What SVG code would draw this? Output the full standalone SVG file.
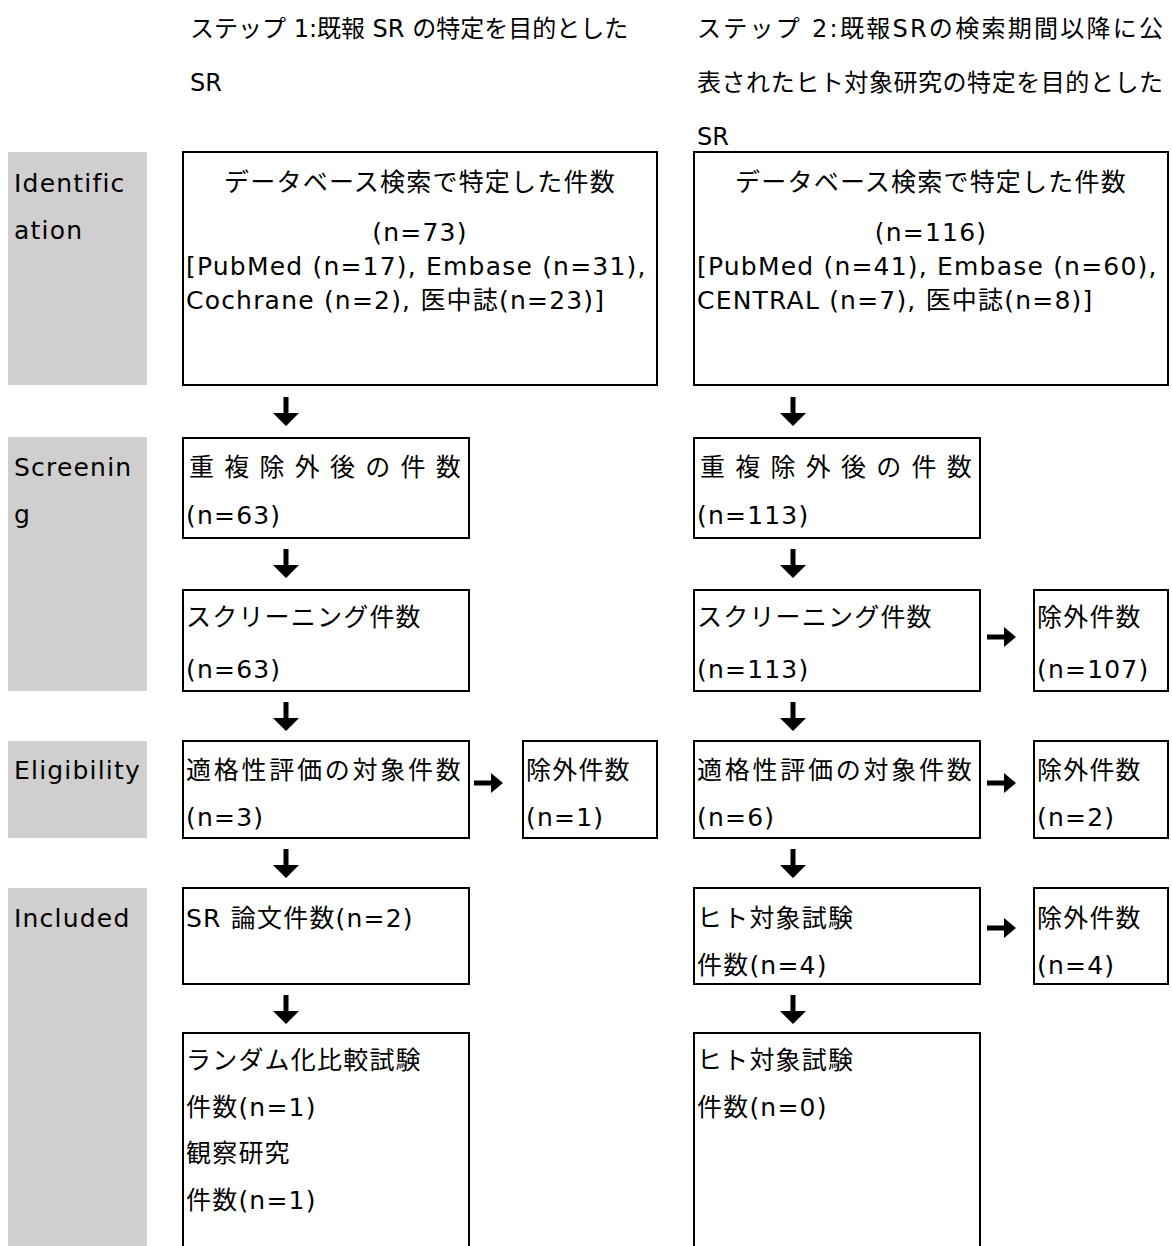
<svg xmlns="http://www.w3.org/2000/svg" width="1172" height="1246" viewBox="0 0 1172 1246">
<defs>
<style>
text{font-family:"DejaVu Sans","Noto Sans CJK JP",sans-serif;font-size:25px;fill:#000;letter-spacing:1.2px}
.h{letter-spacing:0;font-size:24px}
.c{text-anchor:middle}
.box{fill:#fff;stroke:#000;stroke-width:2}
.band{fill:#d0cece}
.arr{fill:#000}
</style>
<path id="down" class="arr" d="M-2.5,0 H2.5 V16 H13 L0,29 L-13,16 H-2.5 Z"/>
<path id="right" class="arr" d="M0,-2.5 H17 V-10 L29,0 L17,10 V2.5 H0 Z"/>
</defs>
<rect width="1172" height="1246" fill="#fff"/>

<g id="headers">
<text class="h" x="190" y="37">ステップ 1:既報 SR の特定を目的とした</text>
<text class="h" x="190" y="91">SR</text>
<text class="h" x="697" y="37" textLength="466" lengthAdjust="spacing">ステップ 2:既報SRの検索期間以降に公</text>
<text class="h" x="697" y="91" textLength="466" lengthAdjust="spacing">表されたヒト対象研究の特定を目的とした</text>
<text class="h" x="697" y="145">SR</text>
</g>

<g id="stage-identification">
<rect class="band" x="8" y="152" width="139" height="233"/>
<text x="14" y="192">Identific</text>
<text x="14" y="239">ation</text>
</g>
<g id="stage-screening">
<rect class="band" x="8" y="437" width="139" height="254"/>
<text x="14" y="476">Screenin</text>
<text x="14" y="523">g</text>
</g>
<g id="stage-eligibility">
<rect class="band" x="8" y="741" width="139" height="97"/>
<text x="14" y="779">Eligibility</text>
</g>
<g id="stage-included">
<rect class="band" x="8" y="888" width="139" height="358"/>
<text x="14" y="927">Included</text>
</g>

<g id="s1-identified">
<rect class="box" x="183" y="152" width="474" height="233"/>
<text class="c" x="420" y="191">データベース検索で特定した件数</text>
<text class="c" x="420" y="241">(n=73)</text>
<text x="186" y="275">[PubMed (n=17), Embase (n=31),</text>
<text x="186" y="309">Cochrane (n=2), 医中誌(n=23)]</text>
</g>
<g id="s2-identified">
<rect class="box" x="694" y="152" width="474" height="233"/>
<text class="c" x="931" y="191">データベース検索で特定した件数</text>
<text class="c" x="931" y="241">(n=116)</text>
<text x="697" y="275">[PubMed (n=41), Embase (n=60),</text>
<text x="697" y="309">CENTRAL (n=7), 医中誌(n=8)]</text>
</g>

<g id="s1-dedup">
<rect class="box" x="183" y="438" width="286" height="100"/>
<text x="189" y="476" textLength="273" lengthAdjust="spacing">重 複 除 外 後 の 件 数</text>
<text x="186" y="524">(n=63)</text>
</g>
<g id="s2-dedup">
<rect class="box" x="694" y="438" width="286" height="100"/>
<text x="700" y="476" textLength="273" lengthAdjust="spacing">重 複 除 外 後 の 件 数</text>
<text x="697" y="524">(n=113)</text>
</g>

<g id="s1-screened">
<rect class="box" x="183" y="590" width="286" height="101"/>
<text x="186" y="626">スクリーニング件数</text>
<text x="186" y="678">(n=63)</text>
</g>
<g id="s2-screened">
<rect class="box" x="694" y="590" width="286" height="101"/>
<text x="697" y="626">スクリーニング件数</text>
<text x="697" y="678">(n=113)</text>
</g>
<g id="s2-screen-excluded">
<rect class="box" x="1034" y="590" width="134" height="101"/>
<text x="1037" y="626">除外件数</text>
<text x="1037" y="678">(n=107)</text>
</g>

<g id="s1-eligibility">
<rect class="box" x="183" y="741" width="286" height="97"/>
<text x="186" y="779" textLength="276" lengthAdjust="spacing">適格性評価の対象件数</text>
<text x="186" y="826">(n=3)</text>
</g>
<g id="s1-elig-excluded">
<rect class="box" x="523" y="741" width="134" height="97"/>
<text x="526" y="779">除外件数</text>
<text x="526" y="826">(n=1)</text>
</g>
<g id="s2-eligibility">
<rect class="box" x="694" y="741" width="286" height="97"/>
<text x="697" y="779" textLength="276" lengthAdjust="spacing">適格性評価の対象件数</text>
<text x="697" y="826">(n=6)</text>
</g>
<g id="s2-elig-excluded">
<rect class="box" x="1034" y="741" width="134" height="97"/>
<text x="1037" y="779">除外件数</text>
<text x="1037" y="826">(n=2)</text>
</g>

<g id="s1-sr">
<rect class="box" x="183" y="888" width="286" height="96"/>
<text x="186" y="927">SR 論文件数(n=2)</text>
</g>
<g id="s2-human">
<rect class="box" x="694" y="888" width="286" height="96"/>
<text x="697" y="927">ヒト対象試験</text>
<text x="697" y="974">件数(n=4)</text>
</g>
<g id="s2-human-excluded">
<rect class="box" x="1034" y="888" width="134" height="96"/>
<text x="1037" y="927">除外件数</text>
<text x="1037" y="974">(n=4)</text>
</g>

<g id="s1-final">
<rect class="box" x="183" y="1033" width="286" height="230"/>
<text x="186" y="1069">ランダム化比較試験</text>
<text x="186" y="1116">件数(n=1)</text>
<text x="186" y="1162">観察研究</text>
<text x="186" y="1209">件数(n=1)</text>
</g>
<g id="s2-final">
<rect class="box" x="694" y="1033" width="286" height="230"/>
<text x="697" y="1069">ヒト対象試験</text>
<text x="697" y="1116">件数(n=0)</text>
</g>

<g id="connectors">
<use href="#down" x="286" y="397"/>
<use href="#down" x="793" y="397"/>
<use href="#down" x="286" y="549"/>
<use href="#down" x="793" y="549"/>
<use href="#down" x="286" y="702"/>
<use href="#down" x="793" y="702"/>
<use href="#down" x="286" y="849"/>
<use href="#down" x="793" y="849"/>
<use href="#down" x="286" y="995"/>
<use href="#down" x="793" y="995"/>
<use href="#right" x="987" y="637"/>
<use href="#right" x="474" y="783"/>
<use href="#right" x="987" y="783"/>
<use href="#right" x="987" y="928"/>
</g>
</svg>
